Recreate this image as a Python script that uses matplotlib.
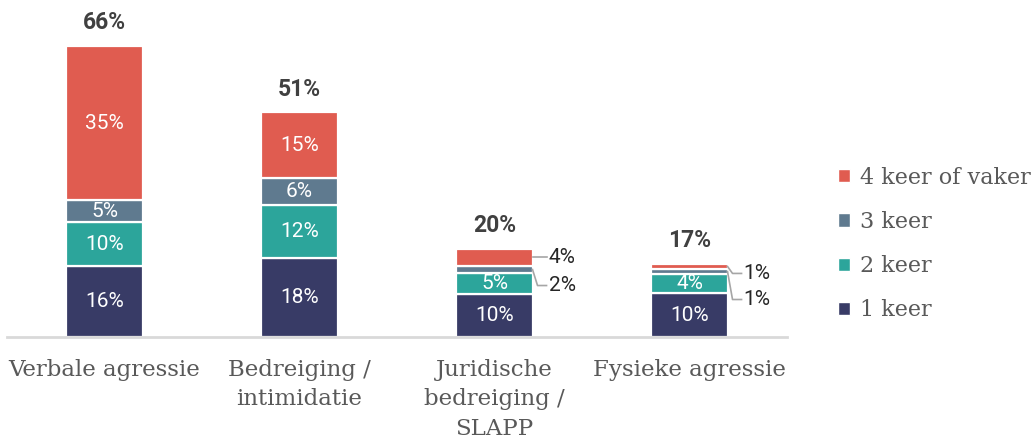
import matplotlib
matplotlib.use("Agg")
import matplotlib.pyplot as plt
from matplotlib.patches import Patch

# data
categories = ["Verbale agressie", "Bedreiging /\nintimidatie",
              "Juridische\nbedreiging /\nSLAPP", "Fysieke agressie"]
series_names = ["1 keer", "2 keer", "3 keer", "4 keer of vaker"]
keer1 = [16, 18, 9.8, 9.9]
keer2 = [10, 12, 4.7, 4.4]
keer3 = [5, 6, 1.6, 1.1]
keer4 = [35, 15, 3.9, 1.2]
totals = [66, 51, 20, 17]

colors = ["#383b66", "#2ca59b", "#5f7a8f", "#e05c50"]
series = [keer1, keer2, keer3, keer4]

W, H = 1033, 440
fig = plt.figure(figsize=(W / 100, H / 100), dpi=100)
ax = fig.add_axes([7 / W, 103 / H, 780 / W, 308.7 / H])
ax.set_xlim(-0.5, 3.5)
ax.set_ylim(0, 70)

# pixels per data unit, for the leader lines
ux = 780 / 4.0
uy = 308.7 / 70.0

num_font = "Roboto"
bar_w = 0.39
x = list(range(len(categories)))

# labels drawn outside the bar: (bar, series) -> label y offset in px (down)
outside = {(2, 3): 0, (2, 2): 16, (3, 3): 7, (3, 2): 28}

bottoms = [0.0] * len(categories)
for si, vals in enumerate(series):
    ax.bar(x, vals, bar_w, bottom=bottoms, color=colors[si],
           edgecolor="white", linewidth=1.6, label=series_names[si], zorder=2)
    for i, v in enumerate(vals):
        yc = bottoms[i] + v / 2
        if (i, si) in outside:
            off = outside[(i, si)] / uy
            xe = x[i] + bar_w / 2
            yl = yc - off
            ax.plot([xe, xe + 5 / ux, xe + 14 / ux], [yc, yl, yl],
                    color="#a6a6a6", lw=1.2, zorder=3, clip_on=False)
            ax.text(xe + 16 / ux, yl, f"{v:.0f}%", ha="left", va="center",
                    fontsize=15, color="#262626", family=num_font)
        else:
            ax.text(x[i], yc, f"{v:.0f}%", ha="center", va="center",
                    fontsize=15, color="white", family=num_font)
    bottoms = [b + v for b, v in zip(bottoms, vals)]

for i, t in enumerate(totals):
    ax.text(x[i], bottoms[i] + 23 / uy, f"{t}%", ha="center", va="center",
            fontsize=16.5, fontweight="bold", color="#404040", family=num_font)

for s in ["top", "right", "left"]:
    ax.spines[s].set_visible(False)
ax.spines["bottom"].set_color("#d9d9d9")
ax.spines["bottom"].set_linewidth(2)
ax.set_yticks([])
ax.set_xticks(x)
ax.set_xticklabels(categories, family="DejaVu Serif", fontsize=16.5,
                   color="#595959", linespacing=1.42)
ax.tick_params(axis="x", length=0, pad=16)

handles = [Patch(facecolor=c, edgecolor="white") for c in colors][::-1]
fig.legend(handles, series_names[::-1], loc="center left",
           bbox_to_anchor=(838 / W, 1 - 244 / H), frameon=False,
           borderpad=0, borderaxespad=0, handlelength=0.55, handleheight=0.55,
           handletextpad=0.45, labelspacing=1.0,
           prop={"family": "DejaVu Serif", "size": 16}, labelcolor="#595959")

fig.savefig("out.png", dpi=100)
